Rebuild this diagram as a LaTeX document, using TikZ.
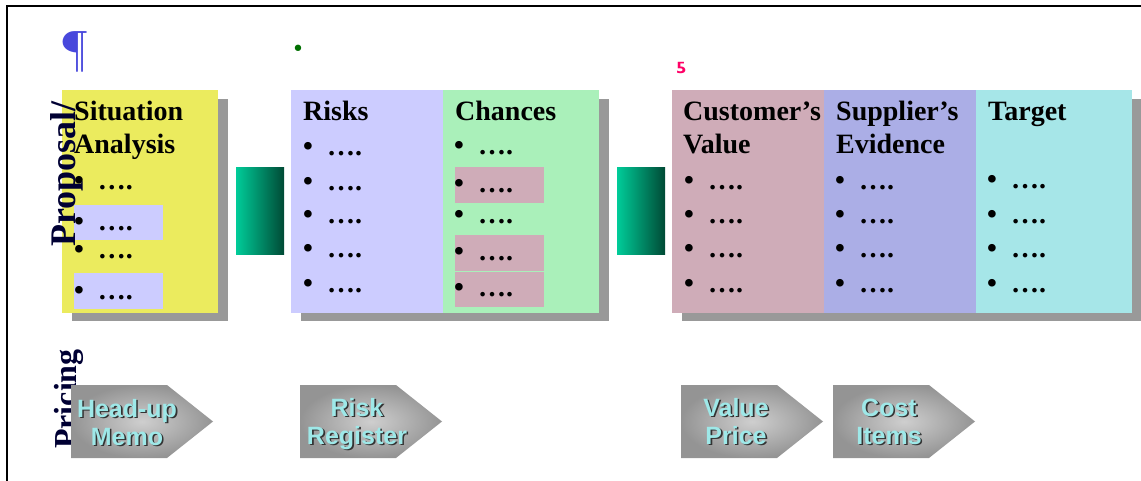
\documentclass[tikz,border=0pt]{standalone}
\usepackage{fontspec}
\setmainfont{Liberation Serif}
\newfontfamily\labelsans{Liberation Sans}
\newfontfamily\symbolfont{DejaVu Sans}
\newfontfamily\lmfont{Latin Modern Roman}

\definecolor{yellowbox}{HTML}{EBEB5E}
\definecolor{lavbox}{HTML}{CCCCFF}
\definecolor{greenbox}{HTML}{AAF0BA}
\definecolor{pinkbox}{HTML}{CFACB8}
\definecolor{purplebox}{HTML}{ABAEE6}
\definecolor{cyanbox}{HTML}{A6E6E8}
\definecolor{shadowgray}{HTML}{999999}
\definecolor{tealL}{HTML}{00CC99}
\definecolor{tealR}{HTML}{004A35}
\definecolor{navytext}{HTML}{000033}
\definecolor{pilcrowblue}{HTML}{4848DC}
\definecolor{markpink}{HTML}{FF0066}
\definecolor{dotgreen}{HTML}{006F00}
\definecolor{labelcyan}{HTML}{9EE8E8}
\definecolor{labelshadow}{HTML}{333333}

% bullet line: a bullet followed by dots
\newcommand\itm[3]{\node[item] (#1) at (#2,#3) {•\hspace{14pt}….};}
% label on a grey arrow, with its dark shadow underneath
\newcommand\chevtext[4]{%
  \node[chevshadow] (#1s) at (#2+1.6,#3+1.6) {#4};
  \node[chevlabel] (#1) at (#2,#3) {#4};}
% grey arrow block with a pointed right end
\newcommand\chevblock[2]{%
  \shade[chev] (#1,#2) -- ++(96,0) -- ++(46,36.5) -- ++(-46,36.5) -- ++(-96,0) -- cycle;}

\begin{document}
\begin{tikzpicture}[x=1pt,y=-1pt,
  panel/.style={anchor=north west, inner sep=0, outer sep=0, draw=none},
  head/.style={anchor=base west, inner sep=0, font=\fontsize{28}{33}\selectfont\bfseries},
  item/.style={anchor=base west, inner sep=0, font=\fontsize{28}{33}\selectfont\bfseries},
  vlabel/.style={rotate=90, anchor=base west, inner sep=0, text=navytext, font=\bfseries},
  chev/.style={inner color=black!19, outer color=black!42},
  chevlabel/.style={anchor=base, inner sep=0, text=labelcyan, font=\labelsans\bfseries\fontsize{25}{30}\selectfont},
  chevshadow/.style={chevlabel, text=labelshadow},
  flow/.style={anchor=north west, inner sep=0, outer sep=0, minimum width=48, minimum height=87, left color=tealL, right color=tealR}
]
\useasboundingbox (0,0) rectangle (1141,481);

% frame
\draw[line width=1.8] (6.7,481) -- (6.7,5.8) -- (1141,5.8);

% marks at the top
\node[inner sep=0, text=pilcrowblue, font=\lmfont\fontsize{46}{46}\selectfont] (para) at (74.5,52) {¶};
\node[inner sep=0, text=dotgreen, font=\symbolfont\fontsize{22}{22}\selectfont] (gdot) at (298,51) {•};
\node[inner sep=0, text=markpink, font=\symbolfont\bfseries\fontsize{15}{15}\selectfont] (pmark) at (681.5,68) {ƽ};

% shadows
\fill[shadowgray] (72,99) rectangle (228,321);
\fill[shadowgray] (301,99) rectangle (609,321);
\fill[shadowgray] (682,99) rectangle (1141,321);

% panels
\node[panel, fill=yellowbox, minimum width=156, minimum height=223] (sit) at (62,90) {};
\node[panel, fill=lavbox, minimum width=152, minimum height=223] (risk) at (291,90) {};
\node[panel, fill=greenbox, minimum width=156, minimum height=223] (chance) at (443,90) {};
\node[panel, fill=pinkbox, minimum width=152, minimum height=223] (cust) at (672,90) {};
\node[panel, fill=purplebox, minimum width=152, minimum height=223] (supp) at (824,90) {};
\node[panel, fill=cyanbox, minimum width=156, minimum height=223] (targ) at (976,90) {};

% highlighted rows
\node[panel, fill=lavbox, minimum width=89, minimum height=35] (sitH1) at (74,205) {};
\node[panel, fill=lavbox, minimum width=89, minimum height=36] (sitH2) at (74,273) {};
\node[panel, fill=pinkbox, minimum width=89, minimum height=36] (chH1) at (455,167) {};
\node[panel, fill=pinkbox, minimum width=89, minimum height=36] (chH2) at (455,235) {};
\node[panel, fill=pinkbox, minimum width=89, minimum height=35] (chH3) at (455,272) {};

% flow blocks between the groups
\node[flow] (flowA) at (236,168) {};
\node[flow] (flowB) at (617,168) {};

% headings
\node[head] (sitT1) at (74,121) {Situation};
\node[head] (sitT2) at (74,154) {Analysis};
\node[head] (riskT) at (303,121) {Risks};
\node[head] (chanceT) at (455,121) {Chances};
\node[head] (custT1) at (683,121) {Customer’s};
\node[head] (custT2) at (683,154) {Value};
\node[head] (suppT1) at (836,121) {Supplier’s};
\node[head] (suppT2) at (836,154) {Evidence};
\node[head] (targT) at (988,121) {Target};

% bullet lines
\itm{s1}{73.8}{190} \itm{s2}{73.8}{231} \itm{s3}{73.8}{259} \itm{s4}{73.8}{299}
\itm{r1}{303}{156} \itm{r2}{303}{191} \itm{r3}{303}{224} \itm{r4}{303}{258} \itm{r5}{303}{293}
\itm{c1}{454}{155} \itm{c2}{454}{193} \itm{c3}{454}{224} \itm{c4}{454}{261} \itm{c5}{454}{297}
\itm{v1}{684}{190} \itm{v2}{684}{224} \itm{v3}{684}{258} \itm{v4}{684}{292}
\itm{e1}{835}{190} \itm{e2}{835}{224} \itm{e3}{835}{258} \itm{e4}{835}{292}
\itm{t1}{987}{189} \itm{t2}{987}{224} \itm{t3}{987}{258} \itm{t4}{987}{292}

% side labels
\node[vlabel, font=\bfseries\fontsize{36}{36}\selectfont] (proposal) at (75,247) {Proposal/};
\node[vlabel, font=\bfseries\fontsize{32}{32}\selectfont] (pricing) at (76,449) {Pricing};

% deliverables
\chevblock{71}{385}
\chevblock{300}{385}
\chevblock{681}{385}
\chevblock{833}{385}
\chevtext{memoA}{127}{417}{Head-up}
\chevtext{memoB}{127}{445}{Memo}
\chevtext{regA}{357}{416}{Risk}
\chevtext{regB}{357}{444}{Register}
\chevtext{priceA}{736}{416}{Value}
\chevtext{priceB}{736}{444}{Price}
\chevtext{costA}{889}{416}{Cost}
\chevtext{costB}{889}{444}{Items}
\end{tikzpicture}
\end{document}
